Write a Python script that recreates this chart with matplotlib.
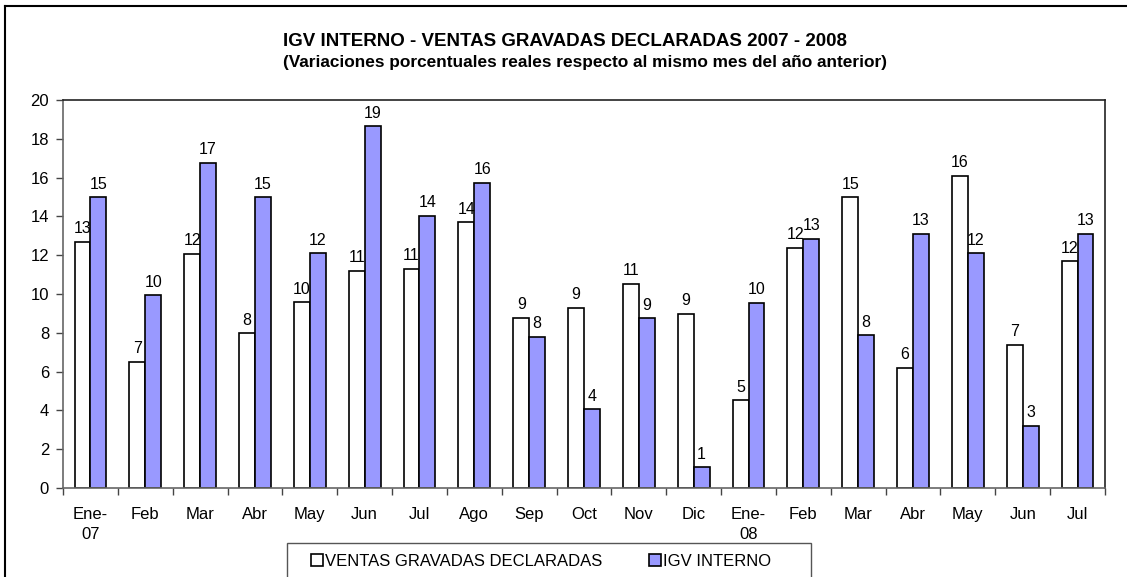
import matplotlib
matplotlib.use("Agg")
import matplotlib.pyplot as plt
import numpy as np
from matplotlib.patches import Rectangle
from matplotlib.lines import Line2D

plt.rcParams['font.family'] = ['Liberation Sans', 'DejaVu Sans']

categories = ["Ene-\n07", "Feb", "Mar", "Abr", "May", "Jun", "Jul", "Ago", "Sep", "Oct",
              "Nov", "Dic", "Ene-\n08", "Feb", "Mar", "Abr", "May", "Jun", "Jul"]
ventas = [12.7, 6.52, 12.06, 7.97, 9.57, 11.2, 11.29, 13.7, 8.78, 9.28,
          10.52, 8.99, 4.52, 12.39, 14.98, 6.19, 16.08, 7.39, 11.68]
igv = [14.98, 9.93, 16.77, 14.98, 12.1, 18.64, 14.04, 15.72, 7.8, 4.05,
       8.76, 1.07, 9.55, 12.84, 7.87, 13.09, 12.11, 3.21, 13.09]
series_names = ["VENTAS GRAVADAS DECLARADAS", "IGV INTERNO"]
yticks = list(range(0, 21, 2))

W, H = 1127, 577
fig = plt.figure(figsize=(W / 100, H / 100), dpi=100)
ax = fig.add_axes([63 / W, 1 - 488 / H, 1042 / W, 388 / H])

blue = "#9999FF"
x = np.arange(len(categories))
bw = 0.29
b1 = ax.bar(x - bw / 2, ventas, bw, color="white", edgecolor="black", linewidth=1.2)
b2 = ax.bar(x + bw / 2, igv, bw, color=blue, edgecolor="black", linewidth=1.2)

for bars, vals in ((b1, ventas), (b2, igv)):
    for r, v in zip(bars, vals):
        ax.annotate(f"{round(v):d}", (r.get_x() + r.get_width() / 2, v),
                    xytext=(0, 4), textcoords="offset points",
                    ha="center", va="bottom", fontsize=11.5)

ax.set_xlim(-0.5, len(categories) - 0.5)
ax.set_ylim(0, 20)
ax.set_yticks(yticks)
ax.set_yticklabels([str(t) for t in yticks], fontsize=12)
ax.set_xticks(x)
ax.set_xticklabels(categories, fontsize=12, linespacing=1.35)
ax.tick_params(axis='x', length=0, pad=14)
ax.set_xticks(np.arange(-0.5, len(categories) + 0.5, 1), minor=True)
ax.tick_params(axis='x', which='minor', length=5, direction='out', width=1, color='#444444')
ax.tick_params(axis='y', length=5, direction='out', width=1, color='#444444', pad=5)
for s in ax.spines.values():
    s.set_linewidth(1.2)
    s.set_color('#222222')
ax.spines['left'].set_color('#666666')
ax.spines['bottom'].set_color('#666666')

# titles
fig.text(565 / W, 1 - 42 / H, "IGV INTERNO - VENTAS GRAVADAS DECLARADAS 2007 - 2008",
         ha="center", va="center", fontsize=13.5, fontweight="bold")
fig.text(585 / W, 1 - 63 / H,
         "(Variaciones porcentuales reales respecto al mismo mes del año anterior)",
         ha="center", va="center", fontsize=12.4, fontweight="bold")

# outer border (left and top visible)
fig.add_artist(Line2D([5 / W, 5 / W], [0, 1 - 6 / H], transform=fig.transFigure, color="black", lw=1.5))
fig.add_artist(Line2D([5 / W, 1], [1 - 6 / H, 1 - 6 / H], transform=fig.transFigure, color="black", lw=1.5))

# legend
fig.add_artist(Rectangle((287 / W, -0.05), (811 - 287) / W, 0.05 + (577 - 543) / H,
                         transform=fig.transFigure, facecolor="white", edgecolor="#555555", lw=1))
handles = [Rectangle((0, 0), 1, 1, facecolor="white", edgecolor="black", lw=1.2),
           Rectangle((0, 0), 1, 1, facecolor=blue, edgecolor="black", lw=1.2)]
leg = fig.legend(handles, series_names, loc="center left",
                 bbox_to_anchor=(311 / W, 1 - 561 / H), ncol=2, frameon=False,
                 fontsize=12, handlelength=0.7, handleheight=0.7, handletextpad=0.12,
                 columnspacing=2.85, borderaxespad=0, borderpad=0)

fig.savefig("out.png", dpi=100)
